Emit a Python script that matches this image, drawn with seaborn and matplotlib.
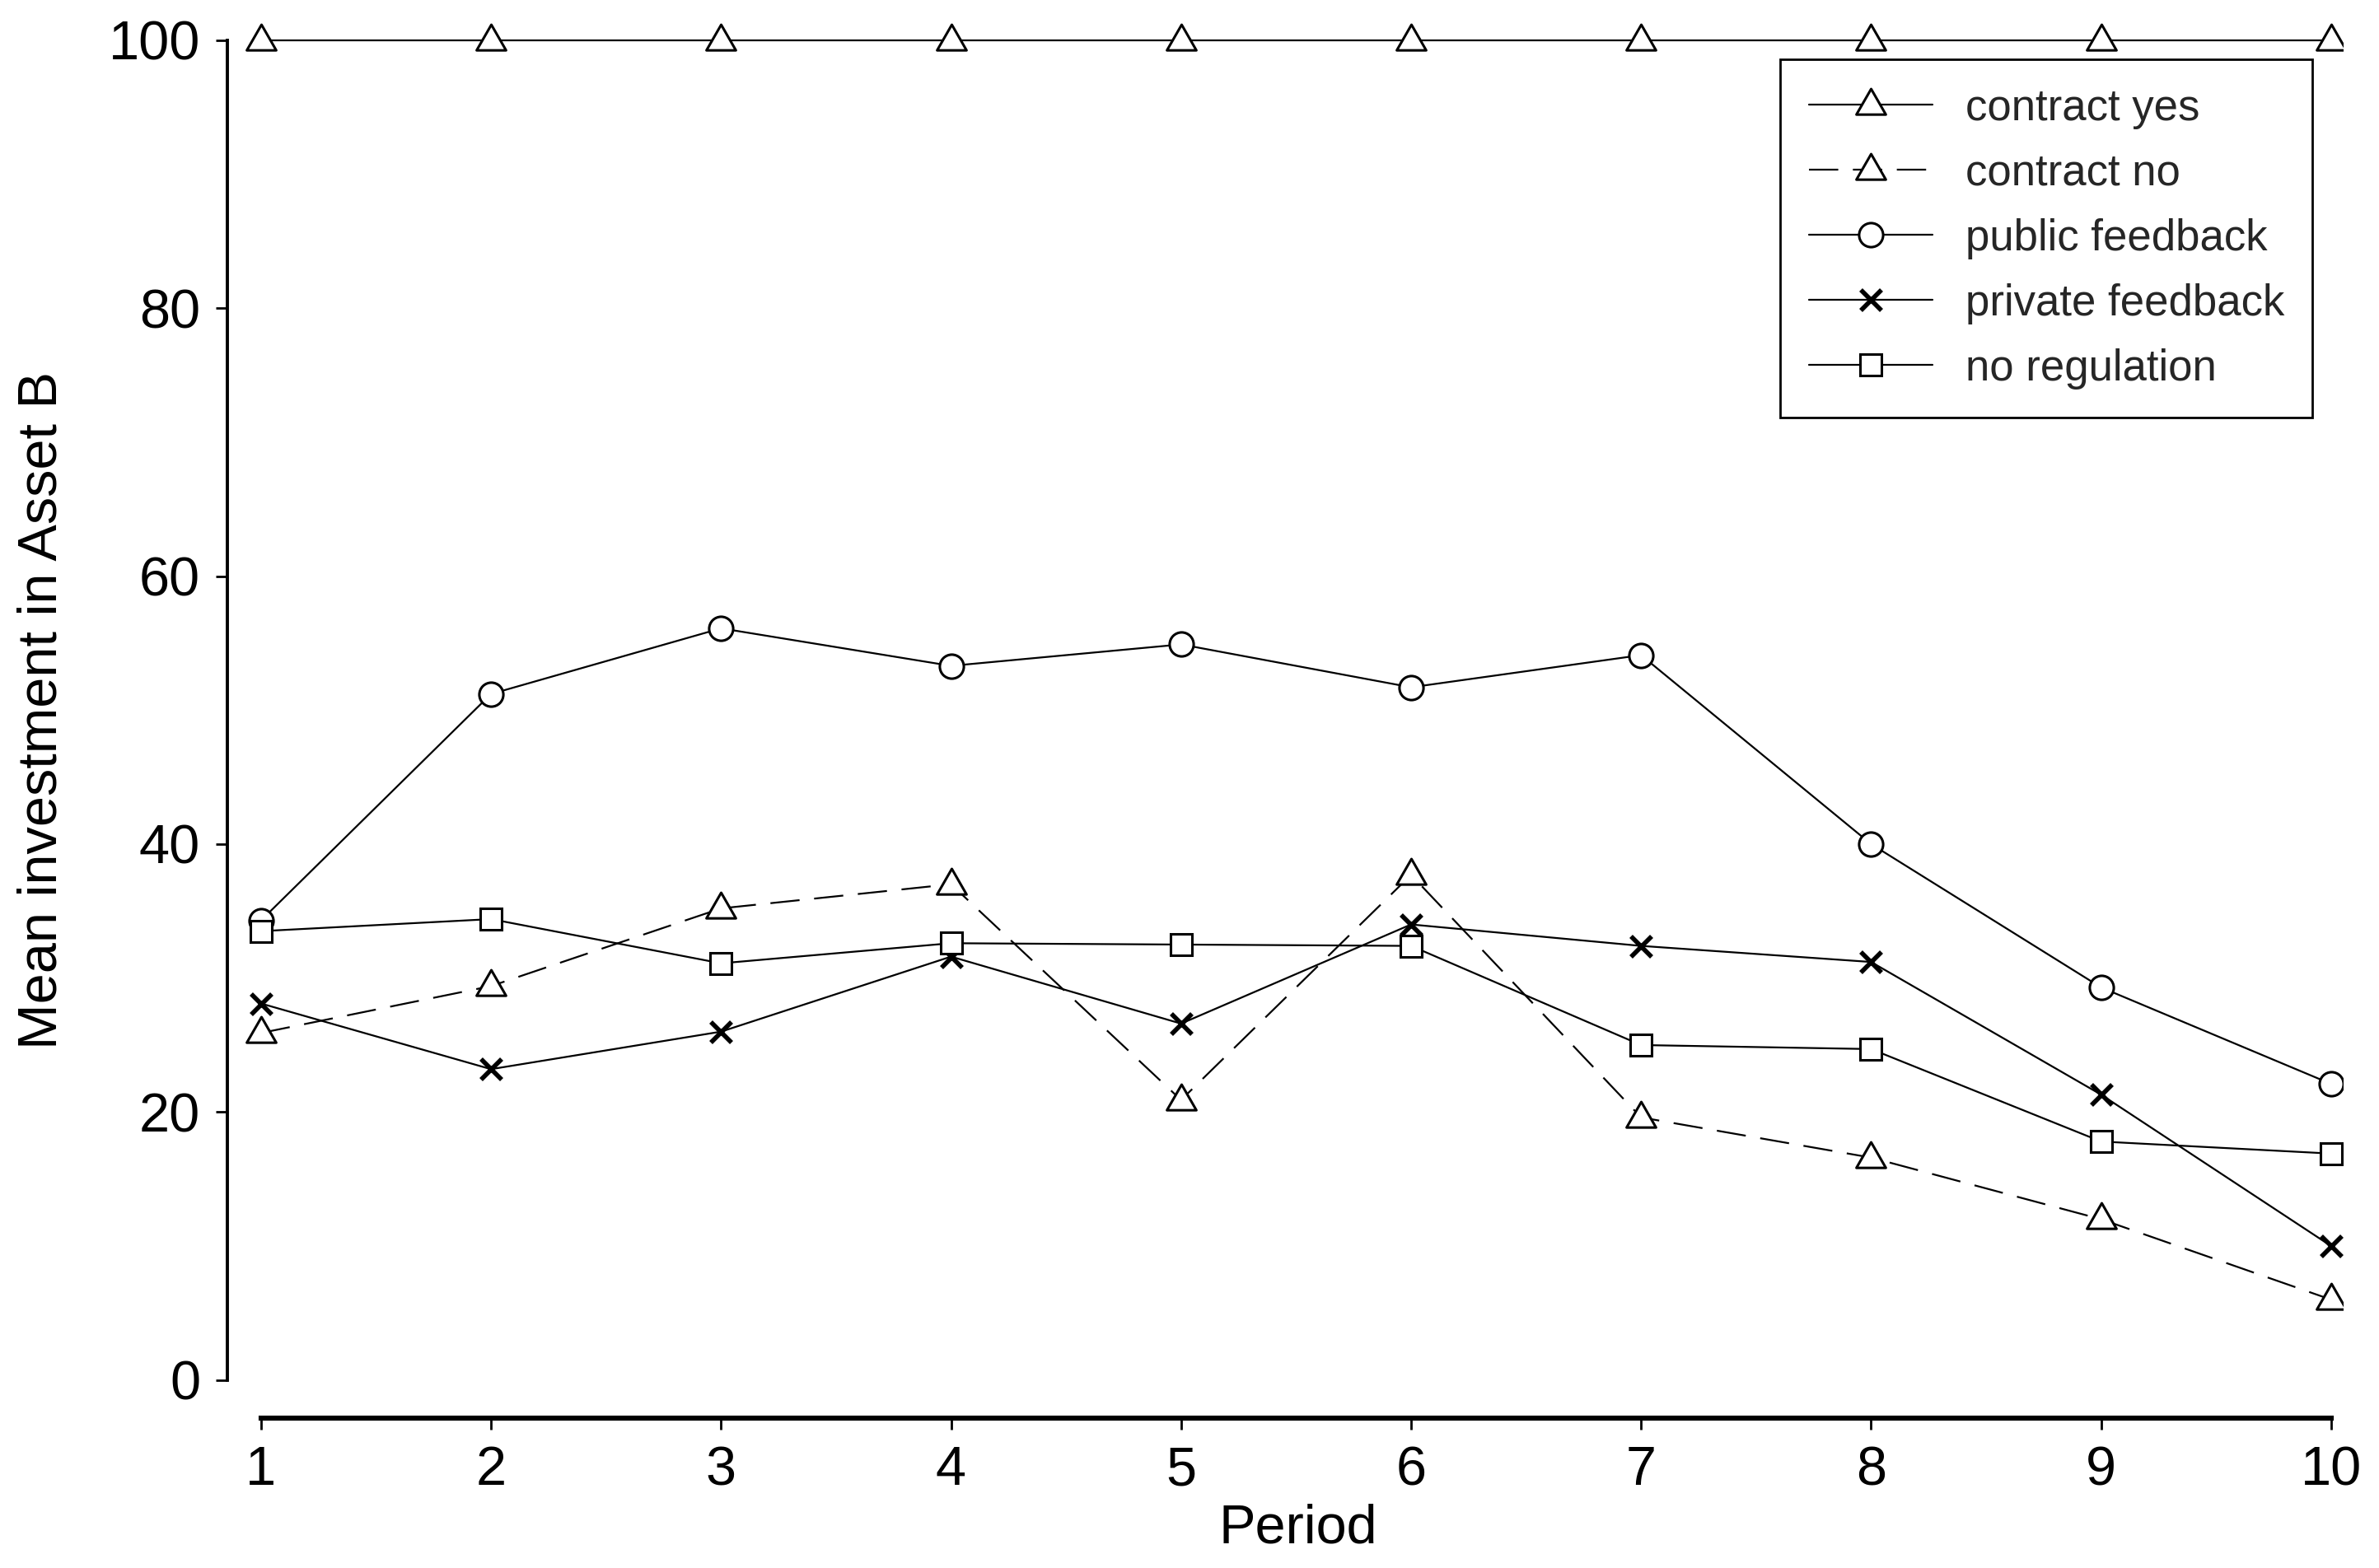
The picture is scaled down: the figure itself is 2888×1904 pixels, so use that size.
import numpy as np
import pandas as pd
import matplotlib
matplotlib.use("Agg")
import matplotlib.pyplot as plt
from matplotlib.path import Path
from matplotlib.lines import Line2D
import seaborn as sns

# ---- data ----
periods = [1, 2, 3, 4, 5, 6, 7, 8, 9, 10]
contract_yes = [100, 100, 100, 100, 100, 100, 100, 100, 100, 100]
contract_no = [25.9, 29.4, 35.2, 37.0, 20.9, 37.7, 19.6, 16.6, 12.0, 6.0]
public_feedback = [34.3, 51.2, 56.1, 53.3, 54.9, 51.7, 54.1, 40.0, 29.3, 22.1]
private_feedback = [28.1, 23.2, 26.0, 31.6, 26.6, 34.0, 32.4, 31.2, 21.3, 10.0]
no_regulation = [33.5, 34.4, 31.1, 32.6, 32.5, 32.4, 25.0, 24.7, 17.8, 16.9]
series_names = ["contract yes", "contract no", "public feedback", "private feedback", "no regulation"]
y_ticks = [0, 20, 40, 60, 80, 100]
x_label = "Period"
y_label = "Mean investment in Asset B"

values = [contract_yes, contract_no, public_feedback, private_feedback, no_regulation]
df = pd.DataFrame({
    "Period": np.tile(periods, len(series_names)),
    "value": np.concatenate(values),
    "series": np.repeat(series_names, len(periods)),
})

sns.set_theme(style="white")
plt.rcParams["font.family"] = ["Liberation Sans", "DejaVu Sans"]

# R-style triangle (centre lower than bbox centre)
tri = Path([(0, 1.0), (-0.92, -0.6), (0.92, -0.6), (0, 1.0)],
           [Path.MOVETO, Path.LINETO, Path.LINETO, Path.CLOSEPOLY])

markers = {"contract yes": tri, "contract no": tri, "public feedback": "o",
           "private feedback": "x", "no regulation": "s"}
msizes = {"contract yes": 14, "contract no": 14, "public feedback": 10.5,
          "private feedback": 9, "no regulation": 9.5}
dash_pat = (16, 8)

fig = plt.figure(figsize=(14.44, 9.52), dpi=200)
ax = fig.add_axes([0.0957, 0.0957, 0.889, 0.9035])

line_lw = 0.8
for name in series_names:
    sub = df[df["series"] == name]
    sns.lineplot(data=sub, x="Period", y="value", ax=ax, color="black",
                 linewidth=line_lw, marker=markers[name],
                 markersize=msizes[name], markerfacecolor="white",
                 markeredgecolor="black",
                 markeredgewidth=2.0 if name == "private feedback" else 1.1,
                 linestyle=(0, dash_pat) if name == "contract no" else "-",
                 legend=False, zorder=3)

ax.set_xlim(0.855, 10.05)
ax.set_ylim(-2.83, 102.9)
ax.set_xticks(periods)
ax.set_yticks(y_ticks)
ax.set_xticklabels([str(p) for p in periods])
ax.set_yticklabels([str(t) for t in y_ticks])

for s in ["top", "right"]:
    ax.spines[s].set_visible(False)
ax.spines["left"].set_bounds(0, 100)
ax.spines["bottom"].set_bounds(1, 10)
ax.spines["left"].set_linewidth(1.4)
ax.spines["bottom"].set_linewidth(2.2)
ax.spines["left"].set_color("black")
ax.spines["bottom"].set_color("black")

ax.tick_params(axis="both", which="major", direction="out", length=5,
               width=1.0, color="black", labelsize=24, labelcolor="black",
               left=True, bottom=True)
ax.tick_params(axis="y", pad=7)
ax.tick_params(axis="x", pad=7)

ax.set_xlabel("")
ax.set_ylabel("")
fig.text(0.5455, 0.025, x_label, ha="center", va="center", fontsize=24, color="black")
fig.text(0.018, 0.547, y_label, ha="center", va="center", rotation=90, fontsize=24, color="black")

handles = []
for name in series_names:
    handles.append(Line2D([0], [0], color="black", linewidth=line_lw,
                          linestyle=(0, dash_pat) if name == "contract no" else "-",
                          marker=markers[name], markersize=msizes[name],
                          markerfacecolor="white", markeredgecolor="black",
                          markeredgewidth=2.0 if name == "private feedback" else 1.1))
leg = fig.legend(handles, series_names, loc="upper right",
                 bbox_to_anchor=(0.972, 0.962), fontsize=19,
                 frameon=True, fancybox=False, framealpha=1, edgecolor="black",
                 handlelength=2.85, handletextpad=0.75, labelspacing=0.55,
                 borderpad=0.65, borderaxespad=0)
leg.get_frame().set_linewidth(1.0)

fig.savefig("out.png", dpi=200, facecolor="white")
